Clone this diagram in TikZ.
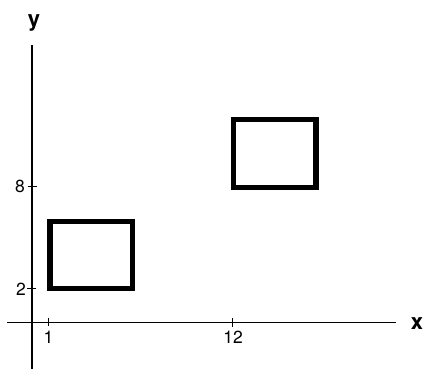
\documentclass[tikz,border=0pt]{standalone}
\usepackage{fontspec}
\setmainfont{TeX Gyre Heros}
\begin{document}
\begin{tikzpicture}[x=1pt,y=1pt,
  axis/.style={line width=1.3pt, black},
  tickmark/.style={line width=1.1pt, black},
  box/.style={line width=5.4pt, black},
  num/.style={inner sep=0pt, anchor=base, font=\fontsize{17.5}{19}\selectfont},
  axlabel/.style={inner sep=0pt, anchor=base, font=\fontsize{22}{24}\selectfont\bfseries}]
\useasboundingbox[fill=white] (-32,-46.8) rectangle (391,322.2);
% axes
\coordinate (xl) at (-24.5,0);
\coordinate (xr) at (364,0);
\coordinate (yb) at (0,-47);
\coordinate (yt) at (0,277.2);
\draw[axis] (xl) -- (xr);
\draw[axis] (yb) -- (yt);
% ticks
\coordinate (t1) at (16.4,0);
\coordinate (t12) at (200.3,0);
\coordinate (t2) at (0,33.9);
\coordinate (t8) at (0,135.5);
\draw[tickmark] ([yshift=4.5]t1) -- ([yshift=-4]t1);
\draw[tickmark] ([yshift=4]t12) -- ([yshift=-5]t12);
\draw[tickmark] ([xshift=-4.5]t2) -- ([xshift=4.5]t2);
\draw[tickmark] ([xshift=-4]t8) -- ([xshift=5]t8);
% tick labels
\node[num] (l1) at (16.5,-21.8) {1};
\node[num] (l12) at (201,-21.2) {12};
\node[num] (l2) at (-11,26.7) {2};
\node[num] (l8) at (-12,129.5) {8};
% axis labels
\node[axlabel] (lx) at (385,-7.1) {x};
\node[axlabel] (ly) at (2,295.8) {y};
% rectangles
\draw[box] (18.2,33.4) rectangle (100.2,100.4);
\draw[box] (201.2,134.7) rectangle (283.8,202.4);
\end{tikzpicture}
\end{document}
